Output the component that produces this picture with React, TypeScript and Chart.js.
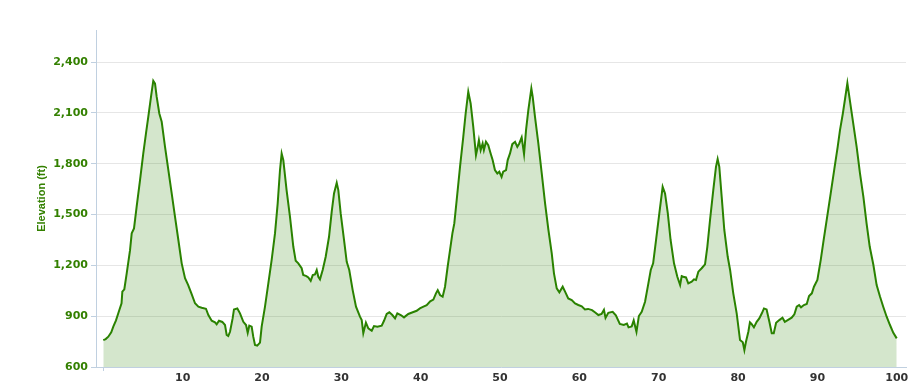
import React, { useEffect, useRef } from 'react';
import { Chart, registerables } from 'chart.js';

Chart.register(...registerables);

const miles = [
  0.0, 0.3, 0.63, 1.0, 1.26, 1.6, 1.89, 2.3, 2.4, 2.65, 2.95, 3.37, 3.58, 3.87, 4.2, 4.63, 5.04, 5.38, 5.67, 6.01,
  6.3, 6.52, 6.73, 7.06, 7.36, 7.78, 8.2, 8.62, 9.04, 9.46, 9.88, 10.3, 10.7, 11.1, 11.56, 11.98, 12.4, 12.94, 13.24, 13.66,
  14.08, 14.29, 14.58, 15.0, 15.34, 15.55, 15.75, 15.97, 16.3, 16.47, 16.89, 17.23, 17.65, 17.99, 18.2, 18.4, 18.7, 18.9, 19.12, 19.4,
  19.75, 19.96, 20.38, 20.8, 21.22, 21.64, 21.98, 22.27, 22.48, 22.69, 23.1, 23.53, 23.95, 24.25, 24.58, 25.0, 25.2, 25.6, 25.84, 26.14,
  26.4, 26.68, 26.9, 27.1, 27.31, 27.65, 28.03, 28.45, 28.79, 29.08, 29.42, 29.62, 29.92, 30.34, 30.68, 31.0, 31.43, 31.85, 32.35, 32.57,
  32.77, 33.1, 33.4, 33.83, 34.12, 34.54, 35.09, 35.38, 35.72, 36.05, 36.43, 36.77, 37.06, 37.49, 37.9, 38.44, 39.0, 39.5, 39.9, 40.35,
  40.76, 41.2, 41.6, 41.93, 42.15, 42.44, 42.77, 43.07, 43.4, 43.7, 44.0, 44.24, 44.54, 44.96, 45.37, 45.67, 46.0, 46.3, 46.63, 46.97,
  47.18, 47.34, 47.56, 47.81, 47.97, 48.23, 48.52, 48.82, 49.07, 49.36, 49.66, 49.91, 50.2, 50.4, 50.76, 50.97, 51.26, 51.55, 51.9, 52.18,
  52.43, 52.73, 53.03, 53.28, 53.57, 53.95, 54.12, 54.41, 54.83, 55.26, 55.68, 56.1, 56.52, 56.8, 57.15, 57.48, 57.9, 58.2, 58.6, 59.04,
  59.46, 59.87, 60.3, 60.7, 61.1, 61.6, 62.0, 62.4, 62.8, 63.1, 63.3, 63.65, 64.2, 64.6, 65.1, 65.6, 66.0, 66.2, 66.6, 66.85,
  67.2, 67.5, 67.86, 68.28, 68.7, 69.0, 69.3, 69.67, 70.08, 70.5, 70.8, 71.15, 71.5, 71.93, 72.35, 72.7, 72.9, 73.1, 73.44, 73.73,
  74.16, 74.45, 74.7, 75.0, 75.42, 75.84, 76.13, 76.47, 76.88, 77.22, 77.43, 77.64, 77.94, 78.27, 78.7, 79.0, 79.4, 79.83, 80.25, 80.6,
  80.8, 81.0, 81.3, 81.5, 81.7, 82.0, 82.35, 82.68, 83.0, 83.27, 83.6, 83.95, 84.25, 84.5, 84.8, 85.2, 85.6, 85.9, 86.26, 86.76,
  87.1, 87.4, 87.7, 87.94, 88.3, 88.66, 88.95, 89.3, 89.57, 90.0, 90.42, 90.76, 91.18, 91.68, 92.14, 92.56, 92.85, 93.2, 93.5, 93.78,
  94.2, 94.5, 94.95, 95.37, 95.8, 96.2, 96.6, 97.05, 97.47, 97.9, 98.3, 98.73, 99.15, 99.57, 100.0,
];

const elevation = [
  759, 765, 779, 805, 838, 875, 917, 976, 1045, 1059, 1153, 1290, 1389, 1418, 1546, 1704, 1861, 1979, 2077, 2195,
  2290, 2274, 2195, 2097, 2048, 1900, 1763, 1625, 1487, 1350, 1212, 1124, 1084, 1035, 976, 956, 950, 944, 907, 873,
  864, 852, 873, 866, 848, 789, 783, 808, 887, 940, 946, 917, 867, 848, 802, 844, 838, 779, 730, 726,
  744, 838, 956, 1094, 1232, 1389, 1566, 1763, 1861, 1822, 1645, 1487, 1310, 1227, 1212, 1183, 1143, 1137, 1129, 1109,
  1143, 1147, 1173, 1133, 1118, 1173, 1251, 1369, 1517, 1625, 1688, 1645, 1507, 1350, 1221, 1173, 1054, 956, 897, 877,
  799, 862, 828, 814, 842, 838, 844, 873, 913, 923, 907, 887, 917, 907, 893, 913, 923, 932, 946, 956,
  965, 988, 998, 1035, 1054, 1025, 1015, 1074, 1192, 1290, 1389, 1448, 1586, 1782, 1959, 2097, 2225, 2156, 2018, 1851,
  1897, 1940, 1881, 1920, 1881, 1930, 1910, 1861, 1822, 1763, 1743, 1753, 1723, 1753, 1763, 1822, 1861, 1916, 1930, 1900,
  1920, 1956, 1857, 1999, 2117, 2245, 2195, 2077, 1920, 1743, 1566, 1409, 1271, 1153, 1064, 1041, 1074, 1045, 1005, 995,
  975, 966, 958, 940, 943, 936, 922, 907, 913, 938, 890, 920, 926, 905, 854, 848, 856, 834, 840, 875,
  808, 901, 926, 985, 1094, 1173, 1212, 1350, 1507, 1664, 1625, 1507, 1350, 1212, 1133, 1084, 1137, 1133, 1129, 1094,
  1104, 1118, 1114, 1163, 1183, 1206, 1310, 1468, 1645, 1782, 1828, 1782, 1605, 1409, 1251, 1173, 1035, 917, 759, 746,
  700, 749, 808, 864, 854, 834, 867, 887, 917, 946, 940, 867, 799, 799, 861, 877, 891, 867, 877, 891,
  911, 956, 966, 952, 966, 972, 1019, 1035, 1074, 1114, 1231, 1340, 1470, 1625, 1770, 1900, 1999, 2094, 2187, 2276,
  2140, 2045, 1900, 1743, 1605, 1448, 1310, 1205, 1084, 1015, 956, 897, 848, 802, 769,
];

const xTicks = [0, 10, 20, 30, 40, 50, 60, 70, 80, 90, 100];
const yTicks = [600, 900, 1200, 1500, 1800, 2100, 2400];
const yTitle = 'Elevation (ft)';

export default function App() {
  const ref = useRef<HTMLCanvasElement>(null);

  useEffect(() => {
    const green = '#2a8200';
    const labelGreen = '#338000';
    const axisColor = '#c0d0e0';
    const chart = new Chart(ref.current as HTMLCanvasElement, {
      type: 'line',
      data: {
        datasets: [
          {
            data: miles.map((m, i) => ({ x: m, y: elevation[i] })),
            borderColor: green,
            backgroundColor: 'rgba(42,130,0,0.2)',
            fill: 'start',
            borderWidth: 2,
            pointRadius: 0,
            tension: 0,
          },
        ],
      },
      options: {
        responsive: false,
        animation: false,
        devicePixelRatio: 1,
        layout: { padding: { left: 0, right: 18, top: 30, bottom: 0 } },
        plugins: { legend: { display: false }, tooltip: { enabled: false } },
        scales: {
          x: {
            type: 'linear',
            min: -0.92,
            max: 101.17,
            afterBuildTicks: (s: any) => {
              s.ticks = xTicks.map((v) => ({ value: v }));
            },
            afterFit: (s: any) => {
              s.height = 21;
            },
            grid: {
              drawOnChartArea: false,
              drawTicks: true,
              tickLength: 4,
              tickColor: (c: any) => (c.tick && c.tick.value === 0 ? axisColor : 'rgba(0,0,0,0)'),
            },
            border: { color: axisColor, width: 1 },
            ticks: {
              callback: (v: any) => (v === 0 ? '' : String(v)),
              color: '#333333',
              font: { family: 'DejaVu Sans', size: 11, weight: 'bold' },
              padding: 1,
              maxRotation: 0,
              autoSkip: false,
            },
          },
          y: {
            min: 600,
            max: 2590,
            afterBuildTicks: (s: any) => {
              s.ticks = yTicks.map((v) => ({ value: v }));
            },
            afterFit: (s: any) => {
              s.width = 96;
            },
            grid: { color: '#e6e6e6', tickColor: axisColor, tickLength: 5, lineWidth: 1 },
            border: { color: axisColor, width: 1 },
            ticks: {
              callback: (v: any) => Number(v).toLocaleString('en-US'),
              color: labelGreen,
              font: { family: 'DejaVu Sans', size: 11, weight: 'bold' },
              padding: 3,
            },
            title: {
              display: true,
              text: yTitle,
              color: labelGreen,
              font: { family: 'Liberation Sans', size: 11, weight: 'bold' },
              padding: { top: 35, bottom: 0 },
            },
          },
        },
      },
    } as any);
    return () => chart.destroy();
  }, []);

  return (
    <canvas
      ref={ref}
      width={924}
      height={388}
      style={{ display: 'block', position: 'absolute', left: 0, top: 0 }}
    />
  );
}
